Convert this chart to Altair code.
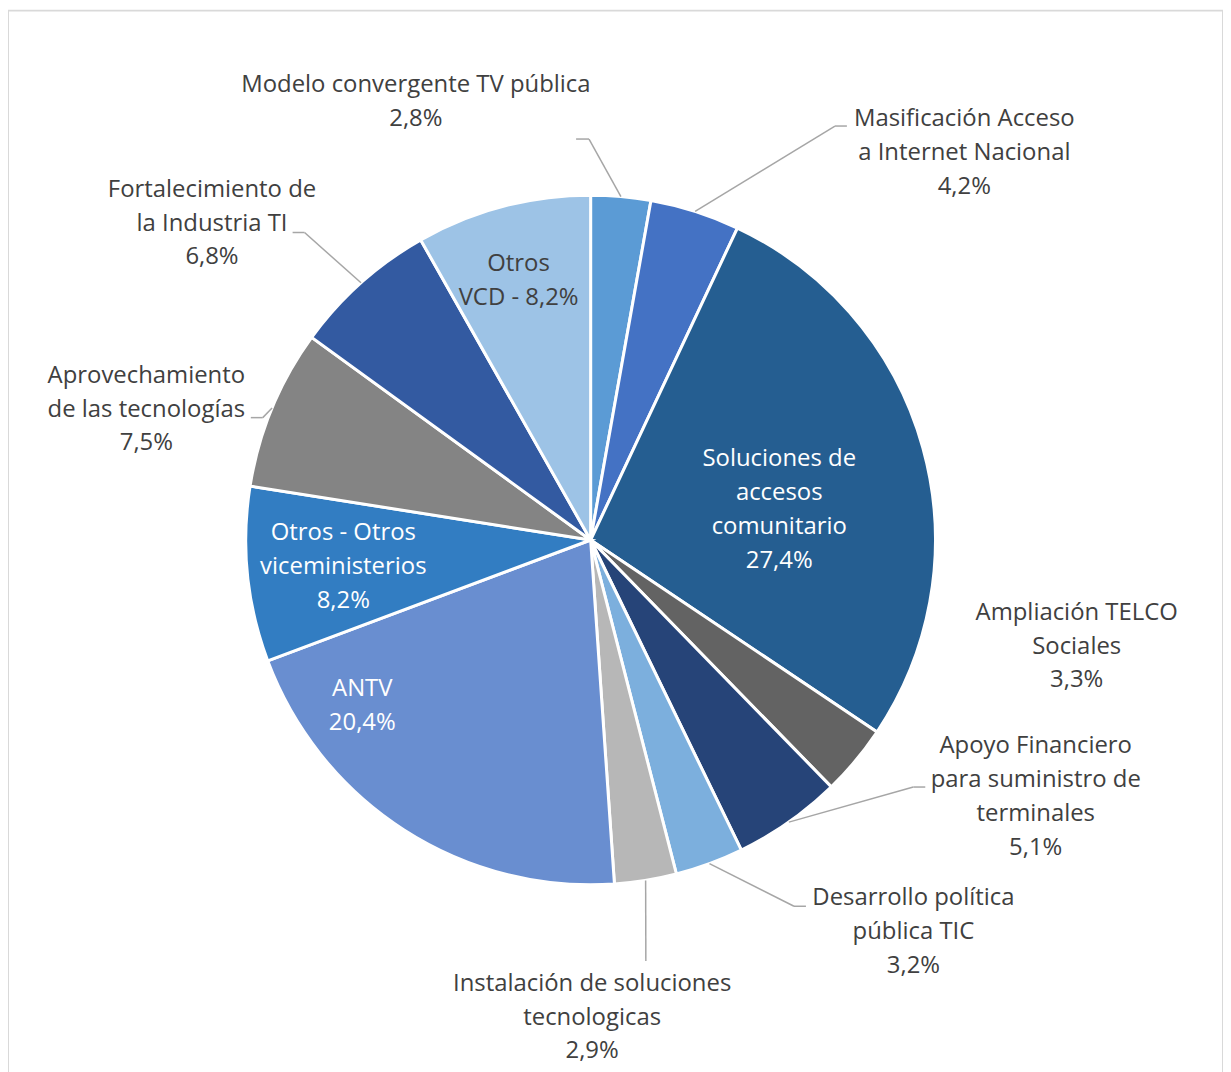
import altair as alt
import pandas as pd

# ---------------- data ----------------
categories = [
    "Modelo convergente TV pública",
    "Masificación Acceso a Internet Nacional",
    "Soluciones de accesos comunitario",
    "Ampliación TELCO Sociales",
    "Apoyo Financiero para suministro de terminales",
    "Desarrollo política pública TIC",
    "Instalación de soluciones tecnologicas",
    "ANTV",
    "Otros - Otros viceministerios",
    "Aprovechamiento de las tecnologías",
    "Fortalecimiento de la Industria TI",
    "Otros VCD",
]
values = [2.8, 4.2, 27.4, 3.3, 5.1, 3.2, 2.9, 20.4, 8.2, 7.5, 6.8, 8.2]
label_lines = [
    ["Modelo convergente TV pública"],
    ["Masificación Acceso", "a Internet Nacional"],
    ["Soluciones de", "accesos", "comunitario"],
    ["Ampliación TELCO", "Sociales"],
    ["Apoyo Financiero", "para suministro de", "terminales"],
    ["Desarrollo política", "pública TIC"],
    ["Instalación de soluciones", "tecnologicas"],
    ["ANTV"],
    ["Otros - Otros", "viceministerios"],
    ["Aprovechamiento", "de las tecnologías"],
    ["Fortalecimiento de", "la Industria TI"],
    ["Otros", "VCD"],
]
pct_sep = ["\n"] * 11 + [" - "]

# ---------------- style / layout ----------------
colors = ["#5B9BD5", "#4472C4", "#255E91", "#636363", "#264478", "#7CAFDD",
          "#B7B7B7", "#698ED0", "#327DC2", "#848484", "#335AA1", "#9DC3E6"]
text_colors = ["#404040", "#404040", "#FFFFFF", "#404040", "#404040", "#404040",
               "#404040", "#FFFFFF", "#FFFFFF", "#404040", "#404040", "#404040"]
# label distance from centre and angular shift (deg) from the slice mid-angle
label_radius = [473.7, 540.7, 191.9, 500.1, 516.5, 510.4, 480.0, 283.8, 250.0, 465.3, 495.9, 269.9]
label_shift = [-26.8, 26.35, 6.5, -27.4, -24.9, -19.3, 9.0, 21.2, -0.44, -6.15, -8.35, -0.8]
# leader lines: has line, elbow offset from label centre, horizontal tail length
has_leader = [1, 1, 0, 0, 1, 1, 1, 0, 0, 1, 1, 0]
elbow_dx = [174, -130, 0, 0, -123, -120, 54, 0, 0, 117, 93, 0]
elbow_dy = [37, -27, 0, 0, -10, -26, -57, 0, 0, 8, 9, 0]
tail_dx = [-13, 12, 0, 0, 12, 12, 0, 0, 0, -12, -12, 0]

CX, CY, R = 585.5, 532, 346.5
LINE_H = 34


def fmt(v):
    return f"{v:.1f}".replace(".", ",") + "%"


df = pd.DataFrame({
    "idx": list(range(len(categories))),
    "category": categories,
    "value": values,
    "label": ["\n".join(l) + s + fmt(v) for l, s, v in zip(label_lines, pct_sep, values)],
    "tcol": text_colors,
    "lr": label_radius,
    "ls": label_shift,
    "lead": has_leader,
    "edx": elbow_dx,
    "edy": elbow_dy,
    "tdx": tail_dx,
})

base = (
    alt.Chart(df)
    .transform_window(cum="sum(value)", sort=[alt.SortField("idx", order="ascending")], frame=[None, 0])
    .transform_joinaggregate(total="sum(value)")
    .transform_calculate(mid="2*PI*(datum.cum - datum.value/2)/datum.total",
                         nl="length(split(datum.label, '\\n'))")
    .transform_calculate(
        lx=f"{CX} + datum.lr*sin(datum.mid + datum.ls*PI/180)",
        ly=f"{CY} - datum.lr*cos(datum.mid + datum.ls*PI/180)",
        sx=f"{CX} + {R}*sin(datum.mid)",
        sy=f"{CY} - {R}*cos(datum.mid)",
    )
    .transform_calculate(ex="datum.lx + datum.edx", ey="datum.ly + datum.edy",
                         ty0=f"datum.ly - (datum.nl - 1)*{LINE_H}/2")
    .transform_calculate(tx="datum.ex + datum.tdx")
)

pie = alt.Chart(df).mark_arc(radius=R, stroke="white", strokeWidth=3).encode(
    theta=alt.Theta("value:Q", stack=True),
    order=alt.Order("idx:Q"),
    color=alt.Color("category:N", scale=alt.Scale(domain=categories, range=colors), legend=None),
    x=alt.value(CX),
    y=alt.value(CY),
)

leaders = base.transform_filter("datum.lead == 1")
lead1 = leaders.mark_rule(color="#A6A6A6", strokeWidth=1.5).encode(
    x=alt.X("sx:Q", scale=None, axis=None),
    y=alt.Y("sy:Q", scale=None, axis=None),
    x2="ex:Q",
    y2="ey:Q",
)
lead2 = leaders.transform_filter("datum.tdx != 0").mark_rule(color="#A6A6A6", strokeWidth=1.5).encode(
    x=alt.X("ex:Q", scale=None, axis=None),
    y=alt.Y("ey:Q", scale=None, axis=None),
    x2="tx:Q",
    y2="ey:Q",
)

labels = base.mark_text(
    font="Open Sans", fontSize=24, lineBreak="\n", lineHeight=LINE_H, align="center", baseline="middle"
).encode(
    x=alt.X("lx:Q", scale=None, axis=None),
    y=alt.Y("ty0:Q", scale=None, axis=None),
    text="label:N",
    color=alt.Color("tcol:N", scale=None, legend=None),
)

chart = (
    alt.layer(pie, lead1, lead2, labels)
    .properties(width=1221, height=1068, padding=0, autosize=alt.AutoSizeParams(type="none"))
    .configure_view(stroke="#D9D9D9", strokeWidth=2)
)

chart.save("out.html", embed_options={"renderer": "svg", "actions": False})
